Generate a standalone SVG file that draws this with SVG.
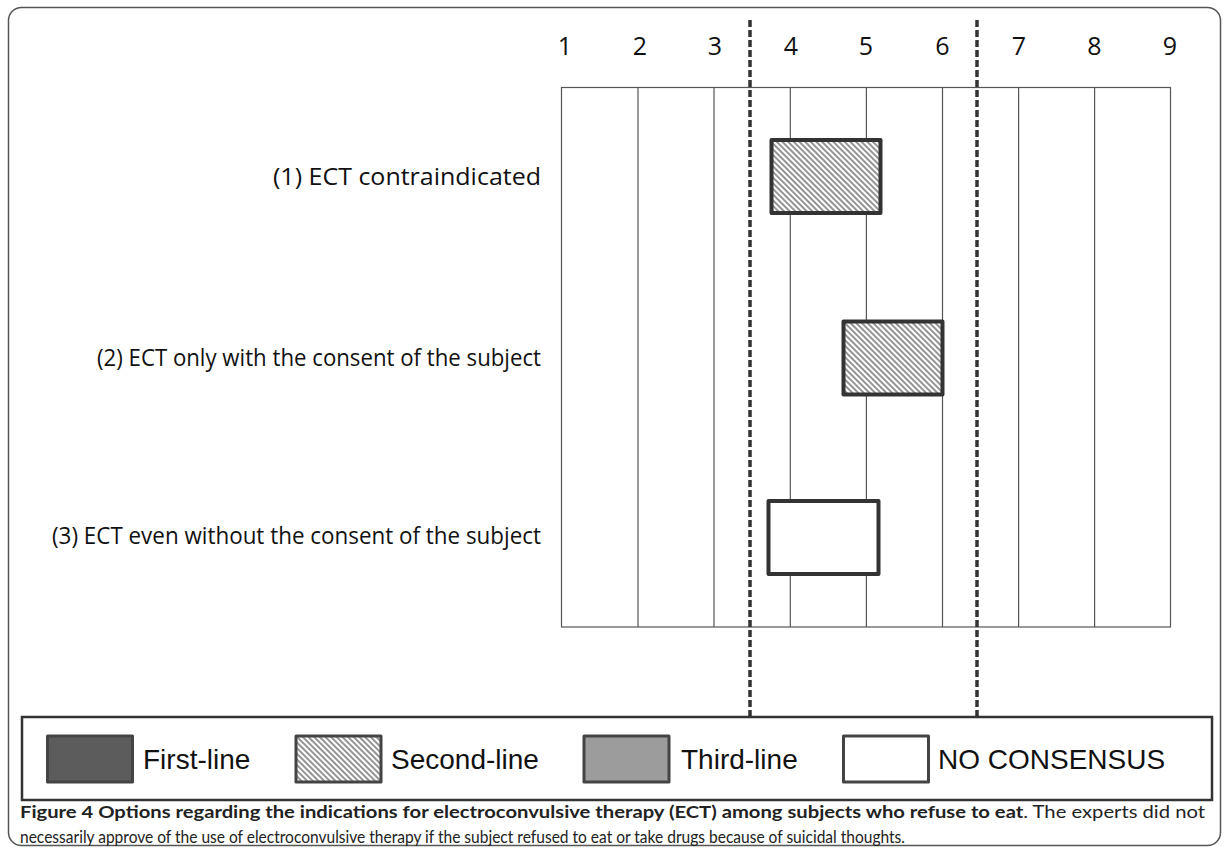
<svg xmlns="http://www.w3.org/2000/svg" width="1225" height="851" viewBox="0 0 1225 851">
<style>
.num{font-family:"Open Sans","Noto Sans",sans-serif;font-size:25px;fill:#111;text-anchor:middle}
.lab{font-family:"Open Sans","Noto Sans",sans-serif;font-size:23.5px;fill:#111}
.leg{font-family:"Liberation Sans",Arial,sans-serif;font-size:28px;fill:#111}
.cap{font-family:Lato,"Open Sans",sans-serif;font-size:17px;fill:#222}
.grid{stroke:#555;stroke-width:1.2;fill:none}
.bar{stroke:#333;stroke-width:4;stroke-linejoin:round}
.sw{stroke:#444;stroke-width:3;stroke-linejoin:round}
.dash{stroke:#333;stroke-width:3.5;stroke-dasharray:7 3;fill:none}
</style>
<defs>
<pattern id="hatch" width="4" height="4" patternUnits="userSpaceOnUse" patternTransform="rotate(-45)">
<rect width="4" height="4" fill="#fff"/>
<line x1="1" y1="0" x2="1" y2="4" stroke="#666" stroke-width="1.4"/>
</pattern>
</defs>
<rect width="1225" height="851" fill="#fff"/>
<rect id="frame" x="8.5" y="7.5" width="1212" height="838" rx="13" fill="none" stroke="#555" stroke-width="1.5"/>

<g id="axis-numbers">
<text class="num" x="565" y="55">1</text>
<text class="num" x="640" y="55">2</text>
<text class="num" x="715" y="55">3</text>
<text class="num" x="791" y="55">4</text>
<text class="num" x="866" y="55">5</text>
<text class="num" x="942.5" y="55">6</text>
<text class="num" x="1019" y="55">7</text>
<text class="num" x="1094.5" y="55">8</text>
<text class="num" x="1170" y="55">9</text>
</g>

<g id="grid">
<rect class="grid" x="561.5" y="87.5" width="609" height="539.5"/>
<line class="grid" x1="638" y1="87.5" x2="638" y2="627"/>
<line class="grid" x1="714" y1="87.5" x2="714" y2="627"/>
<line class="grid" x1="790.3" y1="87.5" x2="790.3" y2="627"/>
<line class="grid" x1="866.4" y1="87.5" x2="866.4" y2="627"/>
<line class="grid" x1="942.5" y1="87.5" x2="942.5" y2="627"/>
<line class="grid" x1="1018.6" y1="87.5" x2="1018.6" y2="627"/>
<line class="grid" x1="1094.6" y1="87.5" x2="1094.6" y2="627"/>
</g>

<g id="connectors">
<line class="dash" x1="750" y1="20" x2="750" y2="717"/>
<line class="dash" x1="977" y1="20" x2="977" y2="717"/>
</g>

<g id="row1">
<text class="lab" x="273" y="185" textLength="268" lengthAdjust="spacingAndGlyphs">(1) ECT contraindicated</text>
<rect class="bar" x="771.5" y="140" width="109" height="73" fill="url(#hatch)"/>
</g>
<g id="row2">
<text class="lab" x="97" y="366" textLength="444" lengthAdjust="spacingAndGlyphs">(2) ECT only with the consent of the subject</text>
<rect class="bar" x="843.5" y="321.5" width="99" height="73" fill="url(#hatch)"/>
</g>
<g id="row3">
<text class="lab" x="52" y="544" textLength="489" lengthAdjust="spacingAndGlyphs">(3) ECT even without the consent of the subject</text>
<rect class="bar" x="768.5" y="501" width="110" height="73" fill="#fff"/>
</g>

<g id="legend">
<rect x="22" y="717" width="1190" height="83" fill="#fff" stroke="#333" stroke-width="2.5"/>
<rect class="sw" x="47.5" y="736" width="85" height="46" fill="#5c5c5c"/>
<text class="leg" x="143" y="769">First-line</text>
<rect class="sw" x="296" y="736" width="85" height="46" fill="url(#hatch)"/>
<text class="leg" x="391" y="769">Second-line</text>
<rect class="sw" x="584" y="736" width="85" height="46" fill="#9c9c9c"/>
<text class="leg" x="681" y="769">Third-line</text>
<rect class="sw" x="843.5" y="736" width="85" height="46" fill="#fff"/>
<text class="leg" x="938" y="769">NO CONSENSUS</text>
</g>

<g id="caption">
<text class="cap" x="20" y="818" textLength="1185" lengthAdjust="spacingAndGlyphs"><tspan font-weight="bold">Figure 4 Options regarding the indications for electroconvulsive therapy (ECT) among subjects who refuse to eat</tspan>. The experts did not</text>
<text class="cap" x="20" y="843" textLength="885" lengthAdjust="spacingAndGlyphs">necessarily approve of the use of electroconvulsive therapy if the subject refused to eat or take drugs because of suicidal thoughts.</text>
</g>
</svg>
